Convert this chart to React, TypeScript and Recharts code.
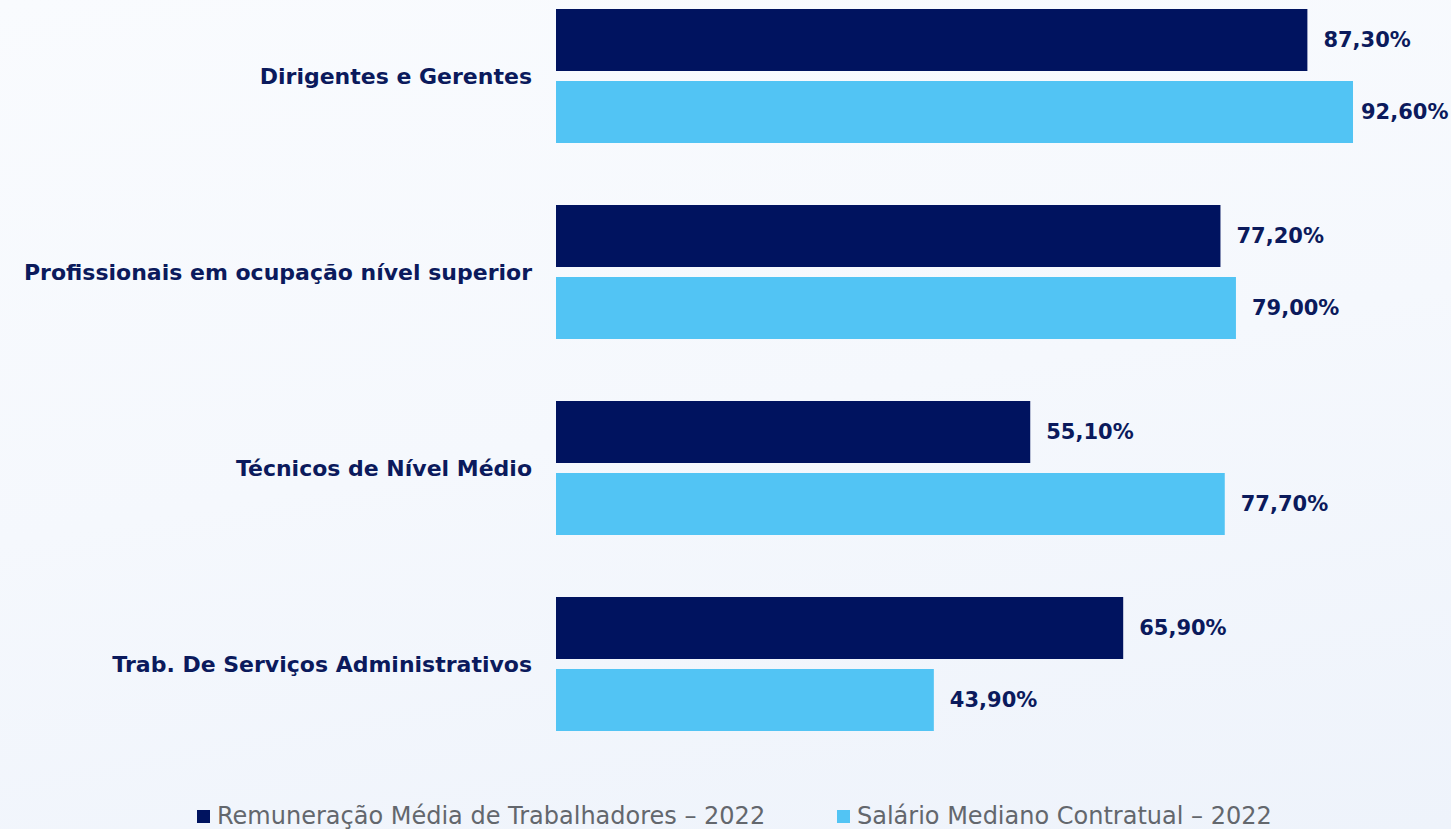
import React from "react";
import { BarChart, Bar, XAxis, YAxis, Legend, LabelList } from "recharts";

const categories = [
  "Dirigentes e Gerentes",
  "Profissionais em ocupação nível superior",
  "Técnicos de Nível Médio",
  "Trab. De Serviços Administrativos",
];
const remuneracao = [87.3, 77.2, 55.1, 65.9];
const salario = [92.6, 79.0, 77.7, 43.9];
const seriesNames = [
  "Remuneração Média de Trabalhadores – 2022",
  "Salário Mediano Contratual – 2022",
];

const data = categories.map((name, i) => ({
  name,
  remuneracao: remuneracao[i],
  salario: salario[i],
}));

const NAVY = "#00135F";
const SKY = "#52C4F4";
const TEXT = "#0B1A5C";
const FONT = "'DejaVu Sans', sans-serif";
const CHART_W = 1451;

const fmt = (v: number) => v.toFixed(2).replace(".", ",") + "%";

// value label to the right of the bar, pulled back in if it would run off the edge
const ValueLabel = (props: any) => {
  const { x, y, width, height, value } = props;
  const end = Number(x) + Number(width);
  const estW = 88;
  let tx = end + 16;
  if (tx + estW > CHART_W - 2) tx = CHART_W - 2 - estW;
  return (
    <text
      x={tx}
      y={Number(y) + Number(height) / 2}
      dominantBaseline="central"
      fill={TEXT}
      fontFamily={FONT}
      fontSize={21}
      fontWeight={700}
    >
      {fmt(Number(value))}
    </text>
  );
};

const LegendContent = () => {
  const items = [
    { label: seriesNames[0], color: NAVY, left: 197 },
    { label: seriesNames[1], color: SKY, left: 837 },
  ];
  return (
    <div style={{ position: "relative", height: 67.5, width: CHART_W }}>
      {items.map((it) => (
        <div
          key={it.label}
          style={{
            position: "absolute",
            left: it.left,
            top: 43,
            height: 23,
            display: "flex",
            alignItems: "center",
            fontFamily: FONT,
            fontSize: 24,
            fontWeight: 400,
            color: "#63676d",
            whiteSpace: "nowrap",
          }}
        >
          <span
            style={{
              display: "inline-block",
              width: 13,
              height: 13,
              background: it.color,
              marginRight: 7,
            }}
          />
          {it.label}
        </div>
      ))}
    </div>
  );
};

export default function App() {
  return (
    <div
      style={{
        position: "absolute",
        left: 0,
        top: 0,
        width: CHART_W,
        height: 829,
        overflow: "hidden",
        background: "linear-gradient(170deg, #f9fbfe 0%, #f5f8fd 50%, #eef3fb 100%)",
      }}
    >
      <div style={{ marginTop: -22.5 }}>
        <BarChart
          width={CHART_W}
          height={851.5}
          data={data}
          layout="vertical"
          margin={{ top: 0, right: 34.3, bottom: 0, left: 0 }}
          barSize={62}
          barGap={10}
        >
          <XAxis type="number" domain={[0, 100]} hide />
          <YAxis
            type="category"
            dataKey="name"
            width={556}
            axisLine={false}
            tickLine={false}
            tickSize={0}
            tickMargin={24}
            tick={{ fill: TEXT, fontFamily: FONT, fontSize: 22, fontWeight: 700 }}
          />
          <Legend verticalAlign="bottom" content={<LegendContent />} />
          <Bar dataKey="remuneracao" name={seriesNames[0]} fill={NAVY} isAnimationActive={false}>
            <LabelList dataKey="remuneracao" content={<ValueLabel />} />
          </Bar>
          <Bar dataKey="salario" name={seriesNames[1]} fill={SKY} isAnimationActive={false}>
            <LabelList dataKey="salario" content={<ValueLabel />} />
          </Bar>
        </BarChart>
      </div>
    </div>
  );
}
